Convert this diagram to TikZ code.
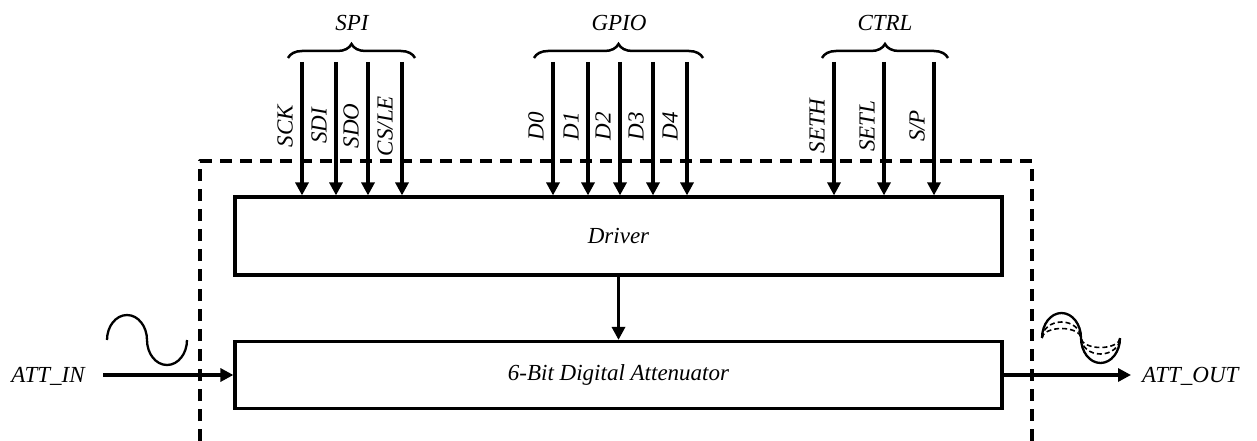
\documentclass[tikz,border=0pt]{standalone}
\usepackage{fontspec}
\setmainfont{Liberation Serif}
\usetikzlibrary{arrows.meta,decorations.pathreplacing}
\begin{document}
\begin{tikzpicture}[x=1pt,y=-1pt,
  every node/.style={font=\fontsize{23}{27}\selectfont\itshape, inner sep=0pt},
  blockbox/.style={draw, line width=3.2pt, line join=miter, minimum width=767pt, inner sep=0pt},
  sig/.style={line width=3.2pt, -{Triangle[length=13pt,width=13pt]}},
  pinlabel/.style={rotate=90, anchor=center},
  buslabel/.style={anchor=center},
  busbrace/.style={line width=2.5pt, decorate, decoration={brace, amplitude=14pt}},
  border/.style={line width=3.2pt, dash pattern=on 12pt off 8pt, line join=round},
  wave/.style={line width=2.3pt},
  wavedash/.style={line width=1.6pt, dash pattern=on 5pt off 3pt}
]
\useasboundingbox (0,0) rectangle (1257,441);

% dashed chip border
\coordinate (bl) at (200,441);
\coordinate (tl) at (200,161);
\coordinate (tr) at (1032,161);
\coordinate (br) at (1032,441);
\draw[border] (bl) -- (tl) -- (tr) -- (br);

% blocks
\node[blockbox, minimum height=78pt] (driver) at (618.5,236) {Driver};
\node[blockbox, minimum height=67pt] (atten) at (618.5,375) {6-Bit Digital Attenuator};

% driver -> attenuator
\draw[sig] (driver.south) -- (atten.north);

% SPI
\foreach \x/\n/\l in {302/sck/{SCK}, 336/sdi/{SDI}, 368/sdo/{SDO}, 402/csle/{CS/LE}}{
  \coordinate (\n) at (\x,62);
  \draw[sig] (\n) -- (\n |- driver.north);
  \node[pinlabel] (\n-lab) at (\x-17,126) {\l};
}
\coordinate (spiL) at (288,58);
\coordinate (spiR) at (415,58);
\draw[busbrace] (spiL) -- (spiR);
\node[buslabel] (spi) at (352,23) {SPI};

% GPIO
\foreach \x/\n/\l in {553/d0/D0, 588/d1/D1, 620/d2/D2, 653/d3/D3, 687/d4/D4}{
  \coordinate (\n) at (\x,62);
  \draw[sig] (\n) -- (\n |- driver.north);
  \node[pinlabel] (\n-lab) at (\x-17,126) {\l};
}
\coordinate (gpioL) at (534,58);
\coordinate (gpioR) at (703,58);
\draw[busbrace] (gpioL) -- (gpioR);
\node[buslabel] (gpio) at (619,23) {GPIO};

% CTRL
\foreach \x/\n/\l in {834/seth/{SETH}, 884/setl/{SETL}, 934/sp/{S/P}}{
  \coordinate (\n) at (\x,62);
  \draw[sig] (\n) -- (\n |- driver.north);
  \node[pinlabel] (\n-lab) at (\x-17,126) {\l};
}
\coordinate (ctrlL) at (822,58);
\coordinate (ctrlR) at (948,58);
\draw[busbrace] (ctrlL) -- (ctrlR);
\node[buslabel] (ctrl) at (885,23) {CTRL};

% input
\coordinate (inp) at (103,375);
\draw[sig] (inp) -- (atten.west);
\node[anchor=center] (attin) at (48,376) {ATT\_IN};
\coordinate (sinA) at (107,340);
\draw[wave] (sinA) arc[start angle=180, end angle=0, x radius=20pt, y radius=25pt]
  arc[start angle=180, end angle=360, x radius=20pt, y radius=25pt];

% output
\coordinate (outp) at (1131,375);
\draw[sig] (atten.east) -- (outp);
\node[anchor=west] (attout) at (1142,376) {ATT\_OUT};
\coordinate (sinB) at (1042,338);
\draw[wave] (sinB) arc[start angle=180, end angle=0, x radius=19.5pt, y radius=25pt]
  arc[start angle=180, end angle=360, x radius=19.5pt, y radius=25pt];
\draw[wavedash] (sinB) arc[start angle=180, end angle=0, x radius=19.5pt, y radius=16pt]
  arc[start angle=180, end angle=360, x radius=19.5pt, y radius=16pt];
\draw[wavedash] (sinB) arc[start angle=180, end angle=0, x radius=19.5pt, y radius=9.5pt]
  arc[start angle=180, end angle=360, x radius=19.5pt, y radius=9.5pt];
\end{tikzpicture}
\end{document}
